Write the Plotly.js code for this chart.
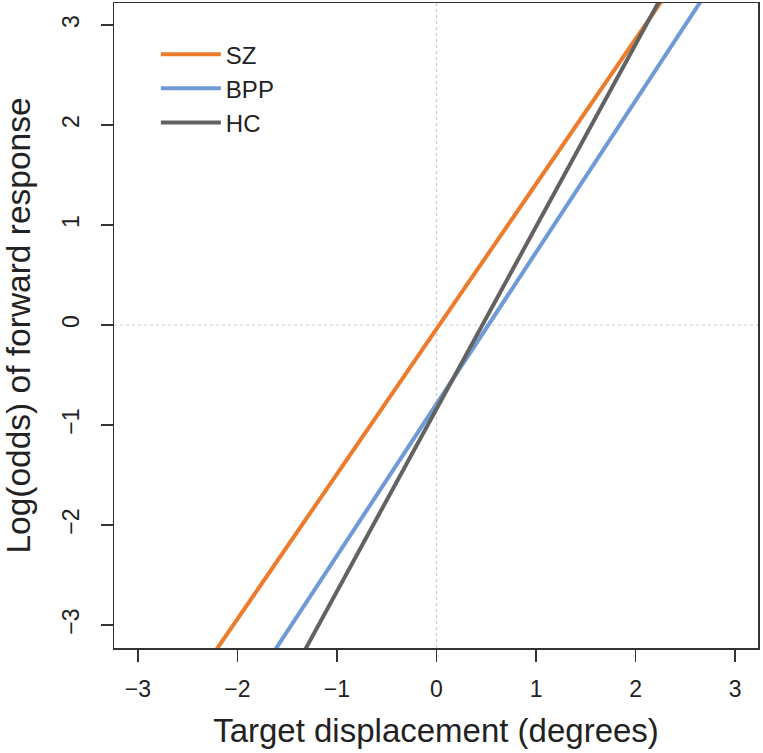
<!DOCTYPE html>
<html>
<head>
<meta charset="utf-8">
<script src="https://cdn.plot.ly/plotly-3.0.1.min.js"></script>
<style>html,body{margin:0;padding:0;background:#fff;}#chart{width:763px;height:753px;}</style>
</head>
<body>
<div id="chart"></div>
<script>
// Series names and colours
var seriesNames = ["SZ", "BPP", "HC"];
var seriesColors = ["#EC7C2C", "#6F9AD6", "#626262"];
// x values at which each fitted line is read
var xValues = [-3, 3];
// log-odds values at x = -3 and x = 3
var szValues = [-4.39, 4.31];
var bppValues = [-5.34, 3.76];
var hcValues = [-6.31, 4.63];
var tickValues = [-3, -2, -1, 0, 1, 2, 3];

var allValues = [szValues, bppValues, hcValues];
var traces = seriesNames.map(function (n, i) {
  return {
    x: xValues, y: allValues[i], name: n, type: "scatter", mode: "lines",
    line: {color: seriesColors[i], width: 4}
  };
});

var fontFam = "Liberation Sans, Arial, Helvetica, sans-serif";
var axisCommon = {
  showgrid: false, zeroline: false, showline: true, mirror: true,
  linecolor: "#333", linewidth: 1.5, ticks: "outside", ticklen: 12,
  tickwidth: 1.5, tickcolor: "#333", tickvals: tickValues,
  tickfont: {family: fontFam, size: 23, color: "#222"}
};

var layout = {
  width: 763, height: 753,
  margin: {l: 114, r: 5, t: 3, b: 105},
  paper_bgcolor: "#fff", plot_bgcolor: "#fff",
  showlegend: true,
  legend: {x: 0.065, y: 0.955, xanchor: "left", yanchor: "top",
    bgcolor: "rgba(0,0,0,0)", font: {family: fontFam, size: 24, color: "#222"},
    itemwidth: 60, tracegroupgap: 0},
  xaxis: Object.assign({}, axisCommon, {
    range: [-3.24, 3.23], ticklabelstandoff: 8,
    title: {text: "Target displacement (degrees)", font: {family: fontFam, size: 33, color: "#222"}, standoff: 18}
  }),
  yaxis: Object.assign({}, axisCommon, {
    range: [-3.23, 3.22], tickangle: -90, ticklabelstandoff: 12,
    title: {text: "Log(odds) of forward response", font: {family: fontFam, size: 33.5, color: "#222"}, standoff: 22}
  }),
  shapes: [
    {type: "line", xref: "x", yref: "paper", x0: 0, x1: 0, y0: 0, y1: 1,
     line: {color: "#cccccc", width: 1.2, dash: "dot"}, layer: "below"},
    {type: "line", xref: "paper", yref: "y", x0: 0, x1: 1, y0: 0, y1: 0,
     line: {color: "#cccccc", width: 1.2, dash: "dot"}, layer: "below"}
  ]
};

Plotly.newPlot("chart", traces, layout, {displayModeBar: false, staticPlot: true});
</script>
</body>
</html>
